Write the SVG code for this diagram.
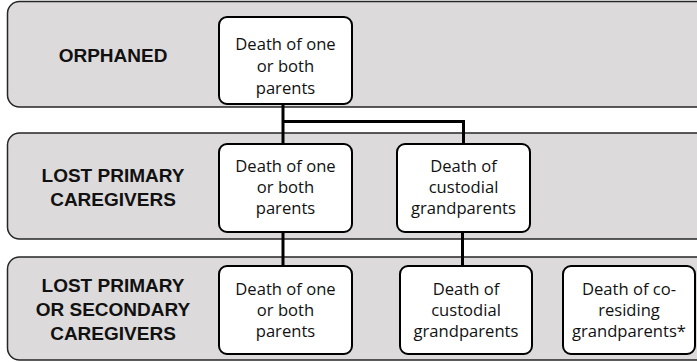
<svg xmlns="http://www.w3.org/2000/svg" width="697" height="362" viewBox="0 0 697 362">
  <style>
    .band { fill: #dcdadb; stroke: #262626; stroke-width: 1.5; }
    .node rect { fill: #ffffff; stroke: #000000; stroke-width: 2; }
    .lbl { font-family: "Liberation Sans", Arial, sans-serif; font-weight: bold; font-size: 19px; fill: #111111; text-anchor: middle; }
    .txt { font-family: "Open Sans", "Liberation Sans", sans-serif; font-size: 16.6px; fill: #111111; text-anchor: middle; }
    .conn { fill: none; stroke: #000000; stroke-width: 3; }
  </style>
  <g id="bands">
    <rect class="band" x="7.5" y="1.5" width="720" height="105.5" rx="12" ry="12"/>
    <rect class="band" x="7.5" y="133" width="720" height="106" rx="12" ry="12"/>
    <rect class="band" x="7.5" y="257" width="720" height="103" rx="12" ry="12"/>
  </g>
  <g id="band-labels">
    <text class="lbl" x="113" y="62">ORPHANED</text>
    <text class="lbl" x="113" y="182">LOST PRIMARY</text>
    <text class="lbl" x="113" y="206">CAREGIVERS</text>
    <text class="lbl" x="113" y="292">LOST PRIMARY</text>
    <text class="lbl" x="113" y="316">OR SECONDARY</text>
    <text class="lbl" x="113" y="340">CAREGIVERS</text>
  </g>
  <g id="connectors">
    <path class="conn" d="M283 104 V144"/>
    <path class="conn" d="M283 121.5 H463.5 V144"/>
    <path class="conn" d="M283 232 V266"/>
    <path class="conn" d="M462.5 232 V266"/>
  </g>
  <g id="node-orphaned-parents" class="node">
    <rect x="219" y="17" width="133" height="87" rx="8" ry="8"/>
    <text class="txt"><tspan x="285.5" y="50">Death of one</tspan><tspan x="285.5" y="72">or both</tspan><tspan x="285.5" y="94">parents</tspan></text>
  </g>
  <g id="node-lpc-parents" class="node">
    <rect x="219" y="144" width="133" height="88" rx="8" ry="8"/>
    <text class="txt"><tspan x="285.5" y="172">Death of one</tspan><tspan x="285.5" y="193">or both</tspan><tspan x="285.5" y="214">parents</tspan></text>
  </g>
  <g id="node-lpc-custodial" class="node">
    <rect x="397" y="144" width="133" height="88" rx="8" ry="8"/>
    <text class="txt"><tspan x="463.5" y="172">Death of</tspan><tspan x="463.5" y="193">custodial</tspan><tspan x="463.5" y="214">grandparents</tspan></text>
  </g>
  <g id="node-lposc-parents" class="node">
    <rect x="219" y="266" width="133" height="88" rx="8" ry="8"/>
    <text class="txt"><tspan x="285.5" y="295">Death of one</tspan><tspan x="285.5" y="316">or both</tspan><tspan x="285.5" y="337">parents</tspan></text>
  </g>
  <g id="node-lposc-custodial" class="node">
    <rect x="400" y="266" width="132" height="88" rx="8" ry="8"/>
    <text class="txt"><tspan x="466" y="295">Death of</tspan><tspan x="466" y="316">custodial</tspan><tspan x="466" y="337">grandparents</tspan></text>
  </g>
  <g id="node-lposc-coresiding" class="node">
    <rect x="563" y="266" width="132" height="88" rx="8" ry="8"/>
    <text class="txt"><tspan x="629" y="295">Death of co-</tspan><tspan x="629" y="316">residing</tspan><tspan x="629" y="337">grandparents*</tspan></text>
  </g>
</svg>
